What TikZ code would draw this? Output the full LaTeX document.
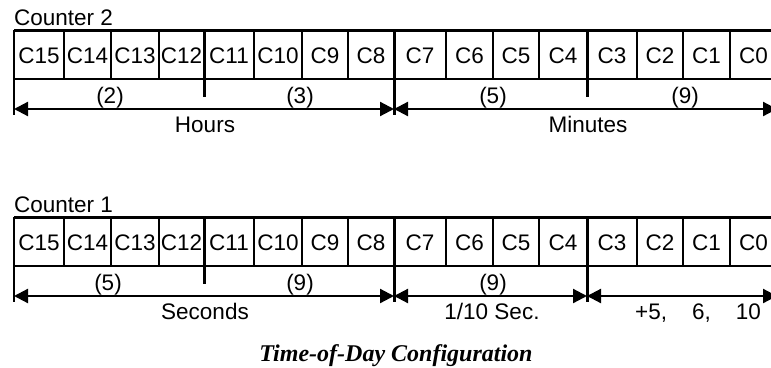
\documentclass[tikz,border=0pt]{standalone}
\usepackage{fontspec}
\setmainfont{Liberation Sans}
\newfontfamily\capfont{Liberation Serif}
\usetikzlibrary{arrows.meta}
\begin{document}
\begin{tikzpicture}[x=1pt,y=-1pt,
  thinline/.style={line width=1.7pt},
  thickline/.style={line width=3pt},
  edgeline/.style={line width=2.2pt},
  dimline/.style={line width=2.2pt,
    {Triangle[length=14pt,width=14pt]}-{Triangle[length=14pt,width=14pt]}},
  txt/.style={font=\fontsize{22.5}{27}\selectfont, inner sep=0pt, anchor=base},
  captxt/.style={font=\capfont\bfseries\itshape\fontsize{24}{28}\selectfont, inner sep=0pt, anchor=base}]
\useasboundingbox (0,0) rectangle (771,367);
\clip (0,0) rectangle (771,367);

% ---------------- Counter 2 ----------------
\begin{scope}[shift={(0,30)}]
  \node[txt, anchor=base west] (t2) at (14,-5) {Counter 2};
  \draw[thickline] (14,0) -- (777,0);
  \draw[thinline] (14,49) -- (777,49);
  \foreach \a/\b/\t in {14/64/C15,64/111/C14,111/159/C13,159/204/C12,204/254/C11,254/302/C10,302/348/C9,348/394/C8,394/446/C7,446/493/C6,493/539/C5,539/587/C4,587/637/C3,637/683/C2,683/730/C1,730/777/C0}{
    \draw[thinline] (\b,0) -- (\b,49);
    \node[txt] (b-\t) at ({(\a+\b)/2},33) {\t};
  }
  \draw[edgeline] (14,0) -- (14,85);
  \draw[thickline] (204,0) -- (204,67);
  \draw[thickline] (394,0) -- (394,85);
  \draw[thickline] (587,0) -- (587,67);
  \coordinate (h1) at (14,79);
  \coordinate (h2) at (394,79);
  \coordinate (h3) at (777,79);
  \draw[dimline] (h1) -- (h2);
  \draw[dimline] (h2) -- (h3);
  \node[txt] (p2) at (110,73) {(2)};
  \node[txt] (p3) at (300,73) {(3)};
  \node[txt] (p5) at (493,73) {(5)};
  \node[txt] (p9) at (685,73) {(9)};
  \node[txt] (hours) at (205,102) {Hours};
  \node[txt] (minutes) at (588,102) {Minutes};
\end{scope}

% ---------------- Counter 1 ----------------
\begin{scope}[shift={(0,217)}]
  \node[txt, anchor=base west] (t1) at (14,-5) {Counter 1};
  \draw[thickline] (14,0) -- (777,0);
  \draw[thinline] (14,49) -- (777,49);
  \foreach \a/\b/\t in {14/64/C15,64/111/C14,111/159/C13,159/204/C12,204/254/C11,254/302/C10,302/348/C9,348/394/C8,394/446/C7,446/493/C6,493/539/C5,539/587/C4,587/637/C3,637/683/C2,683/730/C1,730/777/C0}{
    \draw[thinline] (\b,0) -- (\b,49);
    \node[txt] (a-\t) at ({(\a+\b)/2},33) {\t};
  }
  \draw[edgeline] (14,0) -- (14,85);
  \draw[thickline] (204,0) -- (204,67);
  \draw[thickline] (394,0) -- (394,85);
  \draw[thickline] (587,0) -- (587,85);
  \coordinate (s1) at (14,79);
  \coordinate (s2) at (394,79);
  \coordinate (s3) at (587,79);
  \coordinate (s4) at (777,79);
  \draw[dimline] (s1) -- (s2);
  \draw[dimline] (s2) -- (s3);
  \draw[dimline] (s3) -- (s4);
  \node[txt] (q5) at (108,73) {(5)};
  \node[txt] (q9) at (300,73) {(9)};
  \node[txt] (q9b) at (493,73) {(9)};
  \node[txt] (seconds) at (205,102) {Seconds};
  \node[txt] (tenth) at (492,102) {1/10 Sec.};
  \node[txt, anchor=base west] (mod) at (635,102) {+5,\hspace{25pt}6,\hspace{25pt}10};
\end{scope}

\node[captxt] (cap) at (396,361) {Time-of-Day Configuration};
\end{tikzpicture}
\end{document}
